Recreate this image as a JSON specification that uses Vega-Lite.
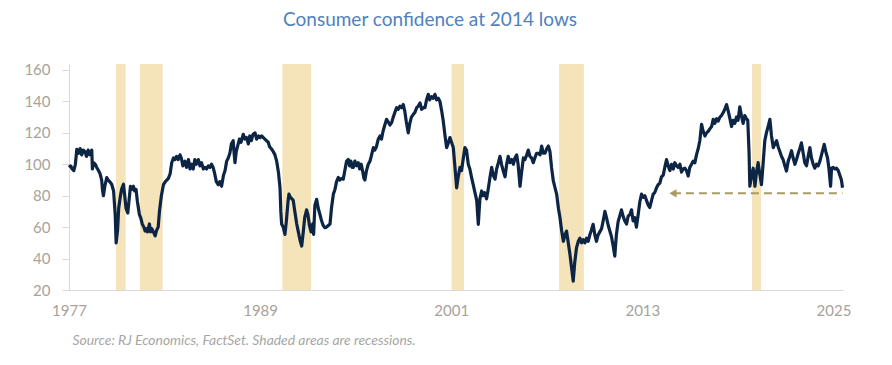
{
  "$schema": "https://vega.github.io/schema/vega-lite/v6.json",
  "width": 774,
  "height": 226,
  "autosize": {"type": "none"},
  "padding": {"left": 69, "top": 64, "right": 49, "bottom": 75},
  "background": "white",
  "title": {
    "text": "Consumer confidence at 2014 lows",
    "font": "Lato",
    "fontSize": 19,
    "fontWeight": "normal",
    "color": "#4f81bd",
    "anchor": "middle",
    "frame": "group",
    "dx": -26,
    "offset": 33
  },
  "config": {
    "view": {"stroke": null},
    "axis": {
      "labelFont": "Lato",
      "labelFontSize": 15,
      "labelColor": "#a8a29a",
      "domainColor": "#d9d9d9",
      "tickColor": "#d9d9d9",
      "grid": false,
      "labelOverlap": false,
      "labelFlush": false
    }
  },
  "datasets": {
    "rec": [
      {"start": 1979.95, "end": 1980.56},
      {"start": 1981.46, "end": 1982.88},
      {"start": 1990.4, "end": 1992.2},
      {"start": 2001.02, "end": 2001.8},
      {"start": 2007.77, "end": 2009.33},
      {"start": 2019.89, "end": 2020.45}
    ],
    "cc": [
      {"t":1977.0,"v":98},{"t":1977.1,"v":99},{"t":1977.2,"v":97},{"t":1977.3,"v":96},{"t":1977.4,"v":100},{"t":1977.49,"v":109.5},{"t":1977.6,"v":107},{"t":1977.7,"v":110},{"t":1977.8,"v":106},{"t":1977.9,"v":109},
      {"t":1978.0,"v":108},{"t":1978.1,"v":105},{"t":1978.2,"v":109},{"t":1978.3,"v":106},{"t":1978.43,"v":109},{"t":1978.47,"v":97},{"t":1978.55,"v":101},{"t":1978.65,"v":100},{"t":1978.74,"v":98},{"t":1978.85,"v":96},{"t":1978.95,"v":94},
      {"t":1979.05,"v":90},{"t":1979.1,"v":84},{"t":1979.16,"v":80},{"t":1979.25,"v":86},{"t":1979.37,"v":91.5},{"t":1979.45,"v":90},{"t":1979.55,"v":89},{"t":1979.68,"v":87.3},{"t":1979.8,"v":83},{"t":1979.9,"v":68},{"t":1979.96,"v":50},
      {"t":1980.05,"v":58},{"t":1980.12,"v":72},{"t":1980.21,"v":78.7},{"t":1980.3,"v":84},{"t":1980.42,"v":87.3},{"t":1980.5,"v":80},{"t":1980.58,"v":72},{"t":1980.69,"v":69},{"t":1980.78,"v":78},{"t":1980.86,"v":86},{"t":1980.94,"v":84},
      {"t":1981.05,"v":86},{"t":1981.12,"v":83},{"t":1981.21,"v":84},{"t":1981.3,"v":76},{"t":1981.42,"v":68},{"t":1981.5,"v":66},{"t":1981.6,"v":62},{"t":1981.7,"v":60},{"t":1981.78,"v":57.5},{"t":1981.85,"v":59},{"t":1981.93,"v":57},
      {"t":1982.05,"v":62},{"t":1982.12,"v":57},{"t":1982.2,"v":59},{"t":1982.3,"v":57},{"t":1982.41,"v":54.4},{"t":1982.5,"v":58},{"t":1982.6,"v":60},{"t":1982.68,"v":70},{"t":1982.8,"v":80},{"t":1982.93,"v":87},
      {"t":1983.05,"v":89},{"t":1983.15,"v":90},{"t":1983.24,"v":91},{"t":1983.35,"v":94},{"t":1983.45,"v":101},{"t":1983.56,"v":104},{"t":1983.65,"v":103},{"t":1983.75,"v":105},{"t":1983.85,"v":103},{"t":1983.97,"v":106},
      {"t":1984.05,"v":104},{"t":1984.15,"v":99},{"t":1984.28,"v":102},{"t":1984.38,"v":98},{"t":1984.5,"v":103},{"t":1984.6,"v":97},{"t":1984.7,"v":100},{"t":1984.8,"v":97},{"t":1984.9,"v":103},
      {"t":1985.0,"v":100},{"t":1985.12,"v":103},{"t":1985.22,"v":99},{"t":1985.32,"v":101},{"t":1985.44,"v":97},{"t":1985.54,"v":98},{"t":1985.64,"v":97},{"t":1985.75,"v":99},{"t":1985.85,"v":98},{"t":1985.95,"v":100},
      {"t":1986.05,"v":98},{"t":1986.15,"v":94},{"t":1986.25,"v":89},{"t":1986.37,"v":87},{"t":1986.47,"v":89},{"t":1986.58,"v":86},{"t":1986.7,"v":93},{"t":1986.8,"v":96},{"t":1986.9,"v":102},
      {"t":1987.0,"v":104},{"t":1987.1,"v":107},{"t":1987.2,"v":113},{"t":1987.31,"v":115},{"t":1987.36,"v":108},{"t":1987.42,"v":101},{"t":1987.5,"v":108},{"t":1987.6,"v":112},{"t":1987.7,"v":116},{"t":1987.8,"v":114},{"t":1987.94,"v":119},
      {"t":1988.05,"v":116},{"t":1988.15,"v":117},{"t":1988.26,"v":113},{"t":1988.35,"v":118},{"t":1988.45,"v":115},{"t":1988.55,"v":119},{"t":1988.68,"v":120},{"t":1988.78,"v":116},{"t":1988.9,"v":118},
      {"t":1989.0,"v":117},{"t":1989.1,"v":118},{"t":1989.2,"v":117},{"t":1989.3,"v":116},{"t":1989.4,"v":115},{"t":1989.51,"v":114},{"t":1989.6,"v":111},{"t":1989.7,"v":110},{"t":1989.83,"v":108},{"t":1989.93,"v":106},
      {"t":1990.04,"v":102},{"t":1990.15,"v":95},{"t":1990.25,"v":85},{"t":1990.3,"v":70},{"t":1990.35,"v":62},{"t":1990.45,"v":60},{"t":1990.56,"v":55.4},{"t":1990.65,"v":64},{"t":1990.75,"v":76},{"t":1990.81,"v":81},{"t":1990.9,"v":79},
      {"t":1991.0,"v":78},{"t":1991.08,"v":77},{"t":1991.18,"v":70},{"t":1991.3,"v":62},{"t":1991.4,"v":57},{"t":1991.5,"v":52},{"t":1991.61,"v":48},{"t":1991.7,"v":56},{"t":1991.8,"v":66},{"t":1991.92,"v":71},
      {"t":1992.0,"v":68},{"t":1992.1,"v":61},{"t":1992.2,"v":57},{"t":1992.3,"v":62},{"t":1992.36,"v":55.4},{"t":1992.44,"v":74},{"t":1992.55,"v":77.7},{"t":1992.65,"v":72},{"t":1992.76,"v":68},{"t":1992.86,"v":64},{"t":1992.96,"v":61},
      {"t":1993.07,"v":59.7},{"t":1993.17,"v":60},{"t":1993.28,"v":61},{"t":1993.39,"v":62},{"t":1993.48,"v":72},{"t":1993.6,"v":81},{"t":1993.7,"v":84},{"t":1993.8,"v":89},{"t":1993.91,"v":91.6},
      {"t":1994.0,"v":90},{"t":1994.12,"v":91},{"t":1994.22,"v":90.5},{"t":1994.32,"v":96},{"t":1994.43,"v":102},{"t":1994.54,"v":103},{"t":1994.62,"v":99},{"t":1994.7,"v":102},{"t":1994.78,"v":98},{"t":1994.85,"v":98},{"t":1994.95,"v":102},
      {"t":1995.05,"v":99},{"t":1995.16,"v":101},{"t":1995.25,"v":97},{"t":1995.35,"v":100},{"t":1995.45,"v":95},{"t":1995.52,"v":91},{"t":1995.58,"v":90},{"t":1995.68,"v":96},{"t":1995.79,"v":100},{"t":1995.9,"v":102},
      {"t":1996.0,"v":106},{"t":1996.11,"v":110.6},{"t":1996.2,"v":109},{"t":1996.3,"v":111},{"t":1996.42,"v":116},{"t":1996.53,"v":118},{"t":1996.62,"v":116},{"t":1996.72,"v":121},{"t":1996.83,"v":125},{"t":1996.94,"v":128.6},
      {"t":1997.04,"v":127},{"t":1997.15,"v":125},{"t":1997.26,"v":126.5},{"t":1997.36,"v":130},{"t":1997.46,"v":133},{"t":1997.57,"v":136},{"t":1997.67,"v":135},{"t":1997.78,"v":137},{"t":1997.88,"v":136},{"t":1997.99,"v":138},
      {"t":1998.08,"v":134},{"t":1998.18,"v":127},{"t":1998.3,"v":120},{"t":1998.4,"v":126},{"t":1998.5,"v":130},{"t":1998.62,"v":131.8},{"t":1998.72,"v":133},{"t":1998.83,"v":136},{"t":1998.93,"v":137},
      {"t":1999.04,"v":139},{"t":1999.14,"v":135},{"t":1999.25,"v":136},{"t":1999.35,"v":136},{"t":1999.45,"v":141},{"t":1999.56,"v":144.5},{"t":1999.65,"v":141},{"t":1999.76,"v":143},{"t":1999.87,"v":142},{"t":1999.98,"v":144.5},
      {"t":2000.08,"v":141},{"t":2000.19,"v":142},{"t":2000.29,"v":140},{"t":2000.4,"v":134},{"t":2000.5,"v":127.5},{"t":2000.6,"v":119},{"t":2000.71,"v":110.6},{"t":2000.8,"v":113},{"t":2000.92,"v":117},
      {"t":2001.02,"v":114},{"t":2001.13,"v":110.6},{"t":2001.22,"v":100},{"t":2001.34,"v":85},{"t":2001.44,"v":92},{"t":2001.55,"v":98},{"t":2001.65,"v":96},{"t":2001.76,"v":104},{"t":2001.86,"v":110.6},{"t":2001.96,"v":109},
      {"t":2002.07,"v":100},{"t":2002.17,"v":97},{"t":2002.28,"v":91.5},{"t":2002.38,"v":87},{"t":2002.49,"v":82},{"t":2002.6,"v":77},{"t":2002.7,"v":61.8},{"t":2002.8,"v":78},{"t":2002.91,"v":83},
      {"t":2003.0,"v":80},{"t":2003.1,"v":82},{"t":2003.22,"v":78},{"t":2003.32,"v":84},{"t":2003.44,"v":92},{"t":2003.54,"v":98},{"t":2003.64,"v":93},{"t":2003.75,"v":90.5},{"t":2003.85,"v":97},{"t":2003.96,"v":101},
      {"t":2004.06,"v":105},{"t":2004.16,"v":100},{"t":2004.26,"v":96},{"t":2004.38,"v":92},{"t":2004.48,"v":100},{"t":2004.58,"v":105},{"t":2004.68,"v":101},{"t":2004.8,"v":103},{"t":2004.9,"v":100},
      {"t":2005.0,"v":104},{"t":2005.11,"v":106},{"t":2005.2,"v":100},{"t":2005.32,"v":86},{"t":2005.42,"v":95},{"t":2005.53,"v":104},{"t":2005.63,"v":103},{"t":2005.74,"v":106},{"t":2005.84,"v":109},{"t":2005.94,"v":105},
      {"t":2006.05,"v":104},{"t":2006.15,"v":101},{"t":2006.25,"v":104},{"t":2006.36,"v":107},{"t":2006.47,"v":107},{"t":2006.58,"v":106},{"t":2006.68,"v":111.6},{"t":2006.78,"v":107},{"t":2006.89,"v":107},
      {"t":2007.0,"v":110},{"t":2007.1,"v":111.6},{"t":2007.2,"v":108},{"t":2007.3,"v":98},{"t":2007.41,"v":89.4},{"t":2007.52,"v":85},{"t":2007.62,"v":81},{"t":2007.73,"v":72},{"t":2007.83,"v":66},{"t":2007.93,"v":58},
      {"t":2008.04,"v":51},{"t":2008.14,"v":55},{"t":2008.24,"v":57.5},{"t":2008.35,"v":50},{"t":2008.45,"v":43},{"t":2008.56,"v":34},{"t":2008.66,"v":25.6},{"t":2008.76,"v":38},{"t":2008.87,"v":47},{"t":2008.98,"v":51},
      {"t":2009.08,"v":53},{"t":2009.18,"v":50},{"t":2009.29,"v":52},{"t":2009.39,"v":50},{"t":2009.5,"v":53},{"t":2009.6,"v":51},{"t":2009.7,"v":55},{"t":2009.8,"v":58},{"t":2009.91,"v":61.8},
      {"t":2010.02,"v":55},{"t":2010.12,"v":51},{"t":2010.22,"v":55},{"t":2010.33,"v":57},{"t":2010.44,"v":59},{"t":2010.54,"v":64},{"t":2010.65,"v":70},{"t":2010.75,"v":66},{"t":2010.86,"v":61},{"t":2010.96,"v":57.5},
      {"t":2011.06,"v":54},{"t":2011.17,"v":48},{"t":2011.27,"v":41.6},{"t":2011.37,"v":55},{"t":2011.48,"v":63.5},{"t":2011.58,"v":67},{"t":2011.69,"v":71},{"t":2011.79,"v":67},{"t":2011.9,"v":64},
      {"t":2012.01,"v":62},{"t":2012.11,"v":67},{"t":2012.22,"v":68},{"t":2012.32,"v":71},{"t":2012.42,"v":64},{"t":2012.53,"v":66},{"t":2012.63,"v":60},{"t":2012.74,"v":68},{"t":2012.84,"v":76},{"t":2012.95,"v":81},
      {"t":2013.05,"v":79},{"t":2013.16,"v":80},{"t":2013.26,"v":77},{"t":2013.37,"v":74},{"t":2013.47,"v":72.5},{"t":2013.58,"v":77},{"t":2013.68,"v":81},{"t":2013.78,"v":82},{"t":2013.89,"v":85},{"t":2013.99,"v":87},
      {"t":2014.1,"v":88},{"t":2014.2,"v":92},{"t":2014.31,"v":93},{"t":2014.41,"v":98},{"t":2014.52,"v":103},{"t":2014.62,"v":99},{"t":2014.73,"v":96},{"t":2014.83,"v":100},{"t":2014.94,"v":97},
      {"t":2015.04,"v":101},{"t":2015.15,"v":99},{"t":2015.25,"v":98},{"t":2015.36,"v":100},{"t":2015.46,"v":95},{"t":2015.56,"v":97},{"t":2015.67,"v":97.5},{"t":2015.77,"v":96},{"t":2015.88,"v":92.5},{"t":2015.98,"v":98},
      {"t":2016.09,"v":100},{"t":2016.19,"v":102},{"t":2016.3,"v":101},{"t":2016.4,"v":106},{"t":2016.51,"v":110},{"t":2016.61,"v":115},{"t":2016.72,"v":125.4},{"t":2016.82,"v":121},{"t":2016.93,"v":118},
      {"t":2017.03,"v":120},{"t":2017.14,"v":121},{"t":2017.24,"v":122.5},{"t":2017.35,"v":124},{"t":2017.45,"v":128.6},{"t":2017.55,"v":126},{"t":2017.66,"v":129},{"t":2017.76,"v":127.5},{"t":2017.87,"v":130},{"t":2017.97,"v":131},
      {"t":2018.08,"v":133},{"t":2018.18,"v":135},{"t":2018.29,"v":138},{"t":2018.39,"v":134},{"t":2018.5,"v":129},{"t":2018.6,"v":124},{"t":2018.7,"v":128},{"t":2018.81,"v":126},{"t":2018.91,"v":130},
      {"t":2019.01,"v":128},{"t":2019.12,"v":136.5},{"t":2019.22,"v":131},{"t":2019.33,"v":126},{"t":2019.43,"v":131},{"t":2019.54,"v":129},{"t":2019.62,"v":128},{"t":2019.7,"v":108},{"t":2019.75,"v":86},{"t":2019.85,"v":92},{"t":2019.96,"v":97.5},
      {"t":2020.02,"v":92},{"t":2020.07,"v":86},{"t":2020.17,"v":95},{"t":2020.27,"v":101},{"t":2020.37,"v":94},{"t":2020.48,"v":87},{"t":2020.58,"v":100},{"t":2020.69,"v":115},{"t":2020.79,"v":120},{"t":2020.9,"v":124},
      {"t":2021.01,"v":128.6},{"t":2021.11,"v":118},{"t":2021.22,"v":110.6},{"t":2021.32,"v":113},{"t":2021.43,"v":115},{"t":2021.53,"v":111},{"t":2021.64,"v":108},{"t":2021.74,"v":105},{"t":2021.84,"v":103},{"t":2021.95,"v":99},
      {"t":2022.05,"v":95.7},{"t":2022.16,"v":102},{"t":2022.26,"v":105},{"t":2022.37,"v":108.6},{"t":2022.47,"v":104},{"t":2022.58,"v":100},{"t":2022.68,"v":103},{"t":2022.79,"v":107},{"t":2022.89,"v":110},{"t":2022.99,"v":113.6},
      {"t":2023.1,"v":107},{"t":2023.2,"v":101},{"t":2023.31,"v":99},{"t":2023.41,"v":105},{"t":2023.52,"v":110.6},{"t":2023.62,"v":104},{"t":2023.73,"v":100},{"t":2023.83,"v":97.5},{"t":2023.94,"v":100},
      {"t":2024.04,"v":99},{"t":2024.15,"v":102},{"t":2024.25,"v":106},{"t":2024.35,"v":110},{"t":2024.42,"v":112.7},{"t":2024.52,"v":108},{"t":2024.63,"v":104},{"t":2024.72,"v":97},{"t":2024.82,"v":86},{"t":2024.88,"v":97.5},{"t":2024.98,"v":98},
      {"t":2025.09,"v":97},{"t":2025.19,"v":97.5},{"t":2025.3,"v":96},{"t":2025.4,"v":93},{"t":2025.5,"v":90},{"t":2025.57,"v":85}
    ],
    "marker": [{"t1": 2014.92, "t2": 2025.57, "v": 81.5}]
  },
  "layer": [
    {
      "data": {"name": "rec"},
      "mark": {"type": "rect", "color": "#f5e3b9"},
      "encoding": {
        "x": {
          "field": "start",
          "type": "quantitative",
          "scale": {"domain": [1977, 2025.6], "nice": false, "zero": false},
          "axis": {
            "values": [1977, 1989, 2001, 2013, 2025],
            "format": "d",
            "ticks": false,
            "tickSize": 0,
            "labelPadding": 13,
            "title": "Source: RJ Economics, FactSet. Shaded areas are recessions.",
            "titleFont": "Lato",
            "titleFontSize": 13.9,
            "titleFontStyle": "italic",
            "titleFontWeight": "normal",
            "titleColor": "#a6a6a6",
            "titleAnchor": "start",
            "titleAlign": "left",
            "titleBaseline": "middle",
            "titleX": 3,
            "titleY": 50
          }
        },
        "x2": {"field": "end"}
      }
    },
    {
      "data": {"name": "cc"},
      "mark": {"type": "line", "color": "#0c2544", "strokeWidth": 3.2, "strokeJoin": "round"},
      "encoding": {
        "x": {"field": "t", "type": "quantitative"},
        "y": {
          "field": "v",
          "type": "quantitative",
          "scale": {"domain": [20, 163.8], "nice": false, "zero": false},
          "axis": {"values": [20, 40, 60, 80, 100, 120, 140, 160], "tickSize": 7, "labelPadding": 12, "title": null}
        }
      }
    },
    {
      "data": {"name": "marker"},
      "mark": {"type": "rule", "color": "#a89b63", "strokeWidth": 2, "strokeDash": [8, 5]},
      "encoding": {
        "x": {"field": "t1", "type": "quantitative"},
        "x2": {"field": "t2"},
        "y": {
          "field": "v",
          "type": "quantitative",
          "axis": {"values": [20, 40, 60, 80, 100, 120, 140, 160], "tickSize": 7, "labelPadding": 12, "title": null}
        }
      }
    },
    {
      "data": {"name": "marker"},
      "mark": {"type": "point", "shape": "triangle-left", "filled": true, "color": "#a89b63", "size": 70, "opacity": 1},
      "encoding": {
        "x": {"field": "t1", "type": "quantitative"},
        "y": {
          "field": "v",
          "type": "quantitative",
          "axis": {"values": [20, 40, 60, 80, 100, 120, 140, 160], "tickSize": 7, "labelPadding": 12, "title": null}
        }
      }
    }
  ]
}
